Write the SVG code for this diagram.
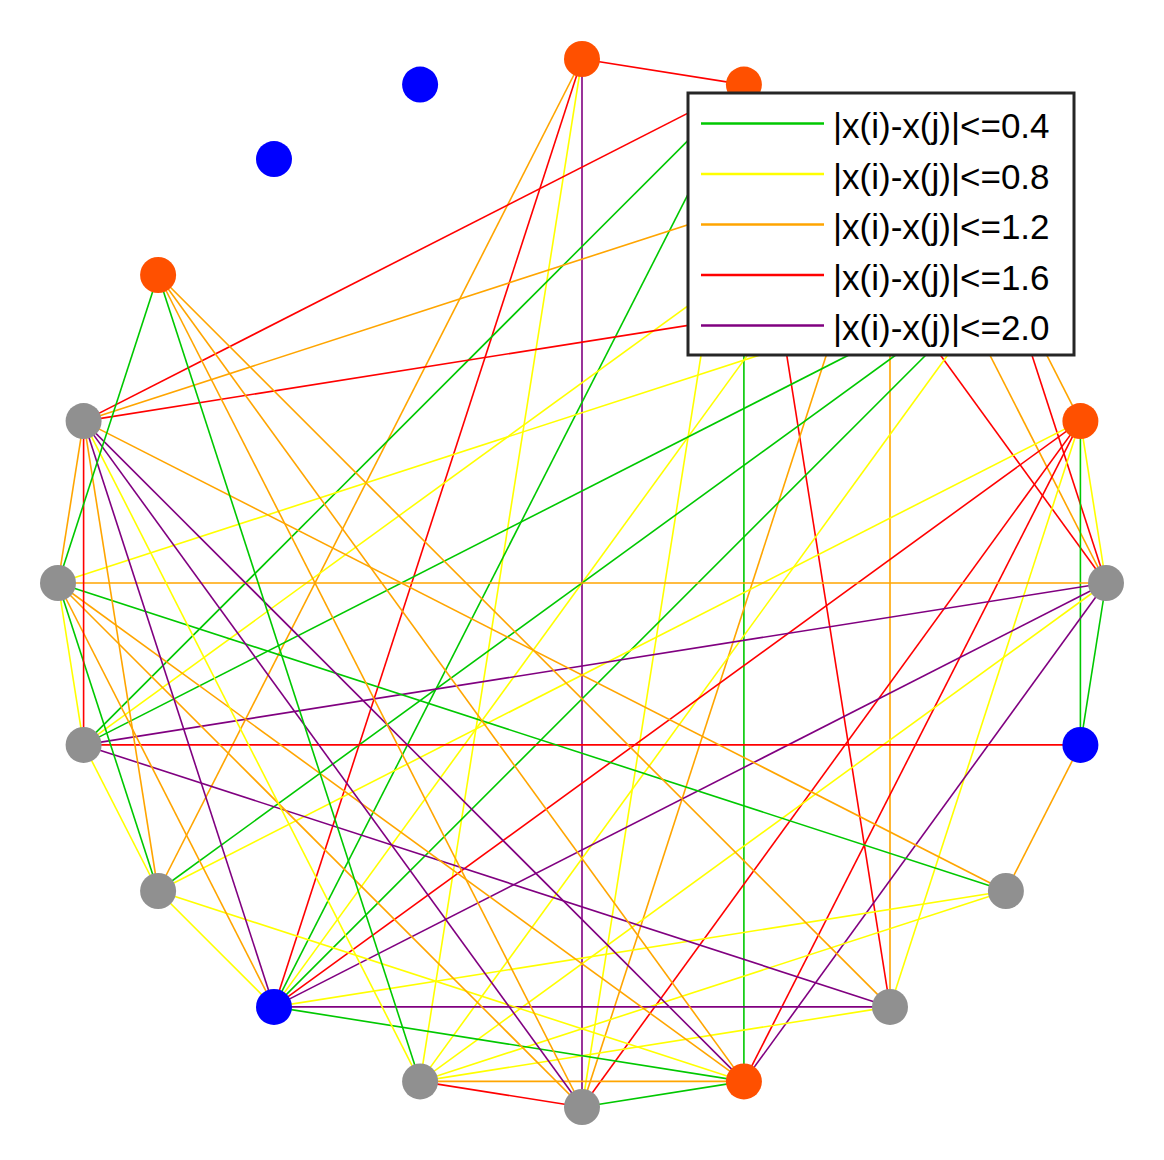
<svg xmlns="http://www.w3.org/2000/svg" width="1164" height="1160" viewBox="0 0 1164 1160">
<style>
.e{stroke-width:1.6;fill:none}
.g{stroke:#00c800}.y{stroke:#ffff00}.o{stroke:#ffa500}.r{stroke:#ff0000}.p{stroke:#800080}
.n{stroke:none}
.no{fill:#ff5000}.ng{fill:#909090}.nb{fill:#0000ff}
.lt{font-family:"Liberation Sans",Arial,sans-serif;font-size:35px;fill:#000}
.ll{stroke-width:2.6}
</style>
<rect width="1164" height="1160" fill="#fff"/>
<g id="connectors" class="e">
<line class="r" x1="582" y1="59" x2="743.9" y2="84.6"/>
<line class="o" x1="582" y1="59" x2="158.1" y2="891"/>
<line class="r" x1="582" y1="59" x2="274" y2="1006.9"/>
<line class="y" x1="582" y1="59" x2="420.1" y2="1081.4"/>
<line class="p" x1="582" y1="59" x2="582" y2="1107"/>
<line class="r" x1="743.9" y1="84.6" x2="83.6" y2="421.1"/>
<line class="g" x1="743.9" y1="84.6" x2="83.6" y2="744.9"/>
<line class="g" x1="743.9" y1="84.6" x2="274" y2="1006.9"/>
<line class="y" x1="743.9" y1="84.6" x2="582" y2="1107"/>
<line class="g" x1="743.9" y1="84.6" x2="743.9" y2="1081.4"/>
<line class="r" x1="743.9" y1="84.6" x2="890" y2="1006.9"/>
<line class="r" x1="743.9" y1="84.6" x2="1106" y2="583"/>
<line class="o" x1="890" y1="159.1" x2="83.6" y2="421.1"/>
<line class="y" x1="890" y1="159.1" x2="83.6" y2="744.9"/>
<line class="y" x1="890" y1="159.1" x2="274" y2="1006.9"/>
<line class="o" x1="890" y1="159.1" x2="582" y2="1107"/>
<line class="o" x1="890" y1="159.1" x2="890" y2="1006.9"/>
<line class="o" x1="890" y1="159.1" x2="1106" y2="583"/>
<line class="r" x1="1005.9" y1="275" x2="83.6" y2="421.1"/>
<line class="y" x1="1005.9" y1="275" x2="58" y2="583"/>
<line class="g" x1="1005.9" y1="275" x2="83.6" y2="744.9"/>
<line class="g" x1="1005.9" y1="275" x2="158.1" y2="891"/>
<line class="g" x1="1005.9" y1="275" x2="274" y2="1006.9"/>
<line class="y" x1="1005.9" y1="275" x2="420.1" y2="1081.4"/>
<line class="r" x1="1005.9" y1="275" x2="1106" y2="583"/>
<line class="o" x1="1005.9" y1="275" x2="1080.4" y2="421.1"/>
<line class="y" x1="1080.4" y1="421.1" x2="1106" y2="583"/>
<line class="g" x1="1080.4" y1="421.1" x2="1080.4" y2="744.9"/>
<line class="y" x1="1080.4" y1="421.1" x2="890" y2="1006.9"/>
<line class="r" x1="1080.4" y1="421.1" x2="743.9" y2="1081.4"/>
<line class="r" x1="1080.4" y1="421.1" x2="582" y2="1107"/>
<line class="r" x1="1080.4" y1="421.1" x2="274" y2="1006.9"/>
<line class="y" x1="1080.4" y1="421.1" x2="158.1" y2="891"/>
<line class="o" x1="1106" y1="583" x2="58" y2="583"/>
<line class="p" x1="1106" y1="583" x2="83.6" y2="744.9"/>
<line class="p" x1="1106" y1="583" x2="274" y2="1006.9"/>
<line class="y" x1="1106" y1="583" x2="420.1" y2="1081.4"/>
<line class="p" x1="1106" y1="583" x2="743.9" y2="1081.4"/>
<line class="g" x1="1106" y1="583" x2="1080.4" y2="744.9"/>
<line class="r" x1="1080.4" y1="744.9" x2="83.6" y2="744.9"/>
<line class="o" x1="1080.4" y1="744.9" x2="1005.9" y2="891"/>
<line class="g" x1="1005.9" y1="891" x2="58" y2="583"/>
<line class="o" x1="1005.9" y1="891" x2="83.6" y2="421.1"/>
<line class="y" x1="1005.9" y1="891" x2="274" y2="1006.9"/>
<line class="y" x1="1005.9" y1="891" x2="420.1" y2="1081.4"/>
<line class="o" x1="890" y1="1006.9" x2="158.1" y2="275"/>
<line class="p" x1="890" y1="1006.9" x2="83.6" y2="744.9"/>
<line class="p" x1="890" y1="1006.9" x2="274" y2="1006.9"/>
<line class="y" x1="890" y1="1006.9" x2="420.1" y2="1081.4"/>
<line class="g" x1="743.9" y1="1081.4" x2="582" y2="1107"/>
<line class="o" x1="743.9" y1="1081.4" x2="420.1" y2="1081.4"/>
<line class="g" x1="743.9" y1="1081.4" x2="274" y2="1006.9"/>
<line class="y" x1="743.9" y1="1081.4" x2="158.1" y2="891"/>
<line class="p" x1="743.9" y1="1081.4" x2="83.6" y2="421.1"/>
<line class="o" x1="743.9" y1="1081.4" x2="158.1" y2="275"/>
<line class="o" x1="743.9" y1="1081.4" x2="58" y2="583"/>
<line class="r" x1="582" y1="1107" x2="420.1" y2="1081.4"/>
<line class="o" x1="582" y1="1107" x2="158.1" y2="275"/>
<line class="p" x1="582" y1="1107" x2="83.6" y2="421.1"/>
<line class="o" x1="582" y1="1107" x2="58" y2="583"/>
<line class="g" x1="420.1" y1="1081.4" x2="158.1" y2="275"/>
<line class="y" x1="420.1" y1="1081.4" x2="83.6" y2="421.1"/>
<line class="y" x1="274" y1="1006.9" x2="158.1" y2="891"/>
<line class="o" x1="274" y1="1006.9" x2="58" y2="583"/>
<line class="p" x1="274" y1="1006.9" x2="83.6" y2="421.1"/>
<line class="o" x1="158.1" y1="891" x2="83.6" y2="421.1"/>
<line class="g" x1="158.1" y1="891" x2="58" y2="583"/>
<line class="y" x1="158.1" y1="891" x2="83.6" y2="744.9"/>
<line class="r" x1="83.6" y1="744.9" x2="83.6" y2="421.1"/>
<line class="y" x1="83.6" y1="744.9" x2="58" y2="583"/>
<line class="g" x1="58" y1="583" x2="158.1" y2="275"/>
<line class="o" x1="58" y1="583" x2="83.6" y2="421.1"/>
</g>
<g id="nodes" class="n">
<circle id="n0" class="no" cx="582" cy="59" r="18"/>
<circle id="n1" class="no" cx="743.9" cy="84.6" r="18"/>
<circle id="n2" class="ng" cx="890" cy="159.1" r="18"/>
<circle id="n3" class="ng" cx="1005.9" cy="275" r="18"/>
<circle id="n4" class="no" cx="1080.4" cy="421.1" r="18"/>
<circle id="n5" class="ng" cx="1106" cy="583" r="18"/>
<circle id="n6" class="nb" cx="1080.4" cy="744.9" r="18"/>
<circle id="n7" class="ng" cx="1005.9" cy="891" r="18"/>
<circle id="n8" class="ng" cx="890" cy="1006.9" r="18"/>
<circle id="n9" class="no" cx="743.9" cy="1081.4" r="18"/>
<circle id="n10" class="ng" cx="582" cy="1107" r="18"/>
<circle id="n11" class="ng" cx="420.1" cy="1081.4" r="18"/>
<circle id="n12" class="nb" cx="274" cy="1006.9" r="18"/>
<circle id="n13" class="ng" cx="158.1" cy="891" r="18"/>
<circle id="n14" class="ng" cx="83.6" cy="744.9" r="18"/>
<circle id="n15" class="ng" cx="58" cy="583" r="18"/>
<circle id="n16" class="ng" cx="83.6" cy="421.1" r="18"/>
<circle id="n17" class="no" cx="158.1" cy="275" r="18"/>
<circle id="n18" class="nb" cx="274" cy="159.1" r="18"/>
<circle id="n19" class="nb" cx="420.1" cy="84.6" r="18"/>
</g>
<g id="legend">
<rect x="688" y="93" width="386" height="262" fill="#fff" stroke="#262626" stroke-width="3"/>
<line class="ll g" x1="701" y1="123.5" x2="824" y2="123.5"/>
<line class="ll y" x1="701" y1="174" x2="824" y2="174"/>
<line class="ll o" x1="701" y1="224.5" x2="824" y2="224.5"/>
<line class="ll r" x1="701" y1="275" x2="824" y2="275"/>
<line class="ll p" x1="701" y1="325.5" x2="824" y2="325.5"/>
<text class="lt" x="833" y="138">|x(i)-x(j)|&lt;=0.4</text>
<text class="lt" x="833" y="188.5">|x(i)-x(j)|&lt;=0.8</text>
<text class="lt" x="833" y="239">|x(i)-x(j)|&lt;=1.2</text>
<text class="lt" x="833" y="289.5">|x(i)-x(j)|&lt;=1.6</text>
<text class="lt" x="833" y="340">|x(i)-x(j)|&lt;=2.0</text>
</g>
</svg>
